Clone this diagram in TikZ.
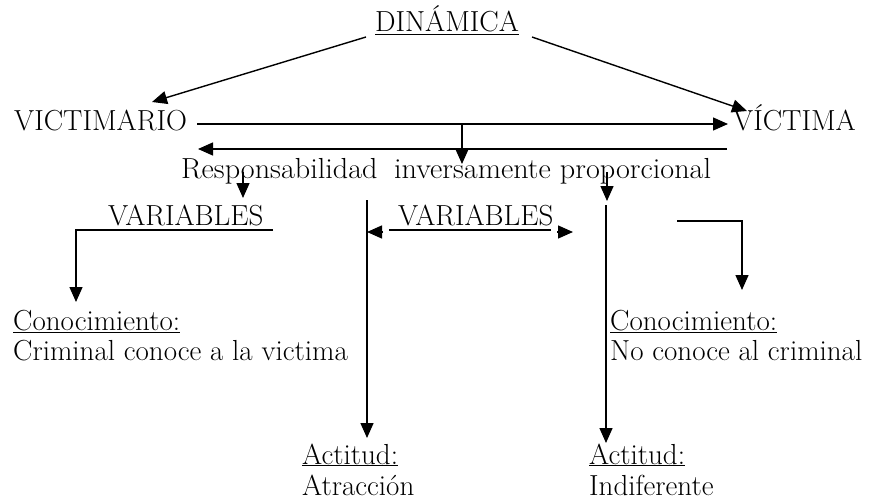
\documentclass[tikz,border=0pt]{standalone}
\usetikzlibrary{arrows.meta}
\begin{document}
\begin{tikzpicture}[x=1pt,y=-1pt,
  txt/.style={inner sep=0pt, font=\fontsize{29}{34}\selectfont},
  arr/.style={line width=1.4pt, -{Triangle[length=15pt,width=13pt]}},
  ln/.style={line width=1.4pt}]
\useasboundingbox (0,0) rectangle (877,500);
% texts
\node[txt,anchor=base] (din) at (447,32) {\underline{DINÁMICA}};
\node[txt,anchor=base west] (vmario) at (14,131) {VICTIMARIO};
\node[txt,anchor=base west] (vima) at (733,131) {VÍCTIMA};
\node[txt,anchor=base west] (resp) at (181,178) {\scalebox{1.04}[1]{Responsabilidad\hspace{0.55em}inversamente proporcional}};
\node[txt,anchor=base west] (var1) at (108,225) {VARIABLES};
\node[txt,anchor=base west] (var2) at (398,225) {VARIABLES};
\node[txt,anchor=base west] (con1) at (13,330) {\underline{Conocimiento:}};
\node[txt,anchor=base west] (con1b) at (13,360) {Criminal conoce a la victima};
\node[txt,anchor=base west] (con2) at (610,330) {\underline{Conocimiento:}};
\node[txt,anchor=base west] (con2b) at (610,360) {No conoce al criminal};
\node[txt,anchor=base west] (act1) at (302,464) {\underline{Actitud:}};
\node[txt,anchor=base west] (act1b) at (302,495) {Atracción};
\node[txt,anchor=base west] (act2) at (589,464) {\underline{Actitud:}};
\node[txt,anchor=base west] (act2b) at (589,495) {Indiferente};
% coordinates
\coordinate (dL) at (366,37);  \coordinate (vL) at (152,102);
\coordinate (dR) at (532,37);  \coordinate (vR) at (747,111);
\coordinate (hA) at (197,124); \coordinate (hB) at (728,124);
\coordinate (hC) at (727,149); \coordinate (hD) at (198,149);
\coordinate (mA) at (462,124); \coordinate (mB) at (462,164);
\coordinate (rA) at (243,172); \coordinate (rB) at (243,198);
\coordinate (pA) at (607,172); \coordinate (pB) at (607,201);
\coordinate (u1a) at (273,230); \coordinate (u1b) at (76,230); \coordinate (u1c) at (76,302);
\coordinate (c1a) at (367,200); \coordinate (c1b) at (367,438);
\coordinate (u2a) at (389,230); \coordinate (u2b) at (551,230);
\coordinate (l2a) at (383,232); \coordinate (l2b) at (367,232);
\coordinate (r2a) at (557,232); \coordinate (r2b) at (573,232);
\coordinate (c2a) at (606,205); \coordinate (c2b) at (606,443);
\coordinate (bA) at (677,221); \coordinate (bB) at (742,221); \coordinate (bC) at (742,290);
% connectors
\draw[arr] (dL) -- (vL);
\draw[arr] (dR) -- (vR);
\draw[arr] (hA) -- (hB);
\draw[arr] (hC) -- (hD);
\draw[arr] (mA) -- (mB);
\draw[arr] (rA) -- (rB);
\draw[arr] (pA) -- (pB);
\draw[arr] (u1a) -- (u1b) -- (u1c);
\draw[arr] (c1a) -- (c1b);
\draw[ln] (u2a) -- (u2b);
\draw[arr] (l2a) -- (l2b);
\draw[arr] (r2a) -- (r2b);
\draw[arr] (c2a) -- (c2b);
\draw[arr] (bA) -- (bB) -- (bC);
\end{tikzpicture}
\end{document}
